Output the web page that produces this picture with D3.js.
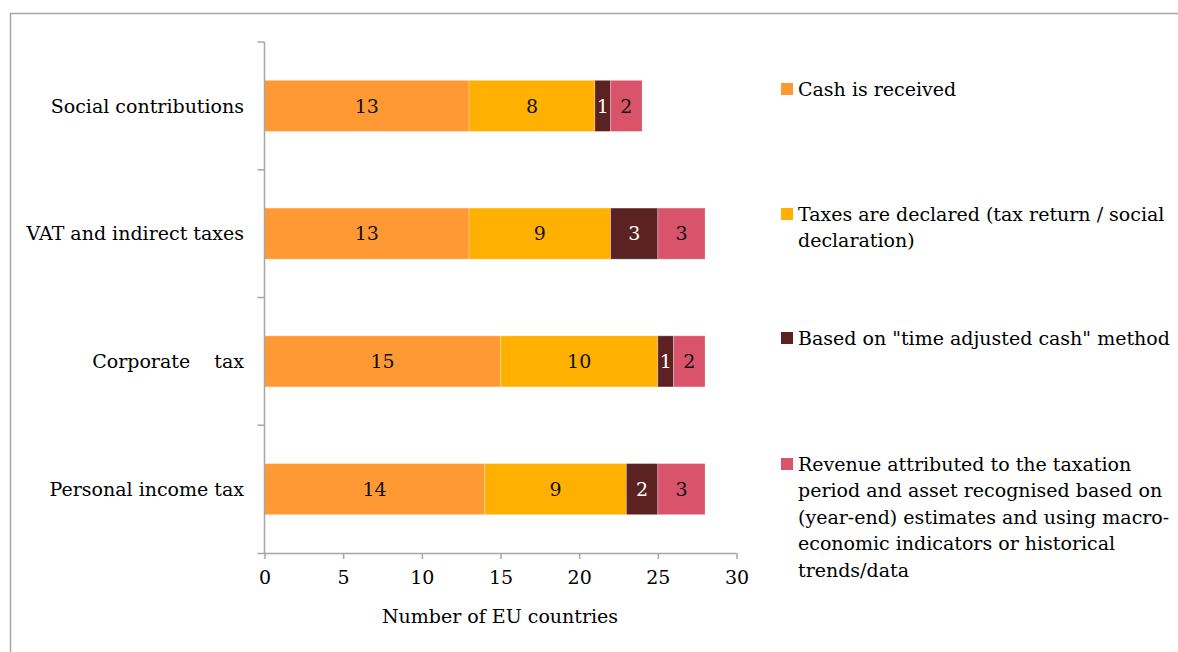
<!DOCTYPE html>
<html>
<head>
<meta charset="utf-8">
<script src="https://cdn.jsdelivr.net/npm/d3@7/dist/d3.min.js"></script>
<style>
  html, body { margin: 0; padding: 0; background: #fff; }
  svg { display: block; }
  text { font-family: "DejaVu Serif", "Liberation Serif", serif; fill: #000; }
</style>
</head>
<body>
<svg id="chart" width="1178" height="652"></svg>
<script>
// Revenue recognition practice by tax type (number of EU countries)
const categories = ["Social contributions", "VAT and indirect taxes", "Corporate    tax", "Personal income tax"];
const seriesNames = [
  "Cash is received",
  "Taxes are declared (tax return / social declaration)",
  "Based on \"time adjusted cash\" method",
  "Revenue attributed to the taxation period and asset recognised based on (year-end) estimates and using macro-economic indicators or historical trends/data"
];
const legendLines = [
  ["Cash is received"],
  ["Taxes are declared (tax return / social", "declaration)"],
  ["Based on \"time adjusted cash\" method"],
  ["Revenue attributed to the taxation", "period and asset recognised based on", "(year-end) estimates and using macro-", "economic indicators or historical", "trends/data"]
];
const cashReceived   = [13, 13, 15, 14];
const taxesDeclared  = [8, 9, 10, 9];
const timeAdjusted   = [1, 3, 1, 2];
const estimates      = [2, 3, 2, 3];
const xTicks = [0, 5, 10, 15, 20, 25, 30];
const colors = ["#FF9933", "#FFB000", "#5C2121", "#D9536B"];
const labelColors = ["#111", "#111", "#fff", "#111"];
const fontSize = "19px";

const seriesValues = [cashReceived, taxesDeclared, timeAdjusted, estimates];
const rows = categories.map((c, i) => {
  const r = { category: c };
  seriesNames.forEach((s, k) => r[s] = seriesValues[k][i]);
  return r;
});
const stacked = d3.stack().keys(seriesNames)(rows);

const svg = d3.select("#chart");

// outer frame (top and left edges)
svg.append("path")
  .attr("d", "M10.5,652 V13.5 H1178")
  .attr("fill", "none").attr("stroke", "#a6a6a6").attr("stroke-width", 1.5);

const x = d3.scaleLinear().domain([0, 30]).range([264.5, 736.5]);
const y = d3.scaleBand().domain(categories).range([42, 553]).paddingInner(0.6).paddingOuter(0.3);

// bars
const g = svg.append("g");
stacked.forEach((layer, k) => {
  g.selectAll(null).data(layer).enter().append("rect")
    .attr("x", d => x(d[0]))
    .attr("y", d => y(d.data.category))
    .attr("width", d => x(d[1]) - x(d[0]))
    .attr("height", y.bandwidth())
    .attr("fill", colors[k])
    .attr("stroke", "rgba(255,255,255,0.35)")
    .attr("stroke-width", 0.8);
  g.selectAll(null).data(layer).enter().append("text")
    .attr("x", d => (x(d[0]) + x(d[1])) / 2)
    .attr("y", d => y(d.data.category) + y.bandwidth() / 2)
    .attr("dy", "0.36em")
    .attr("text-anchor", "middle")
    .style("font-size", fontSize)
    .style("fill", labelColors[k])
    .text(d => d[1] - d[0]);
});

// x axis
const xAxis = svg.append("g").attr("transform", "translate(0,553)")
  .call(d3.axisBottom(x).tickValues(xTicks).tickSize(6).tickSizeOuter(0).tickPadding(12));
xAxis.select(".domain").attr("d", `M${x(0) - 7},0.5 H${x(30)}`);
xAxis.selectAll("line").attr("stroke", "#a6a6a6").attr("stroke-width", 1.5);
xAxis.select(".domain").attr("stroke", "#a6a6a6").attr("stroke-width", 1.5);
xAxis.selectAll("text").style("font-size", fontSize).style("font-family", "DejaVu Serif").attr("fill", "#000");

// y axis with ticks at category boundaries
const yAxisG = svg.append("g");
const step = y.step();
const bounds = d3.range(categories.length).map(i => 42 + i * step);
yAxisG.append("line").attr("x1", x(0)).attr("x2", x(0)).attr("y1", 42).attr("y2", 553)
  .attr("stroke", "#a6a6a6").attr("stroke-width", 1.5);
yAxisG.selectAll(null).data(bounds).enter().append("line")
  .attr("x1", x(0) - 7).attr("x2", x(0)).attr("y1", d => d).attr("y2", d => d)
  .attr("stroke", "#a6a6a6").attr("stroke-width", 1.5);
yAxisG.selectAll(null).data(categories).enter().append("text")
  .attr("x", 244)
  .attr("y", d => y(d) + y.bandwidth() / 2)
  .attr("dy", "0.36em")
  .attr("text-anchor", "end")
  .style("font-size", fontSize)
  .style("white-space", "pre")
  .text(d => d);

// axis title
svg.append("text").attr("x", 500).attr("y", 616).attr("dy", "0.36em")
  .attr("text-anchor", "middle").style("font-size", fontSize).text("Number of EU countries");

// legend
const legendY = [89, 214, 338, 464];
const leg = svg.append("g");
legendLines.forEach((lines, k) => {
  leg.append("rect").attr("x", 781).attr("y", legendY[k] - 6).attr("width", 12).attr("height", 12)
    .attr("fill", colors[k]);
  const t = leg.append("text").attr("x", 798).attr("y", legendY[k])
    .style("font-size", fontSize);
  lines.forEach((ln, j) => {
    t.append("tspan").attr("x", 798).attr("dy", j === 0 ? "0.36em" : "26.5px").text(ln);
  });
});
</script>
</body>
</html>
